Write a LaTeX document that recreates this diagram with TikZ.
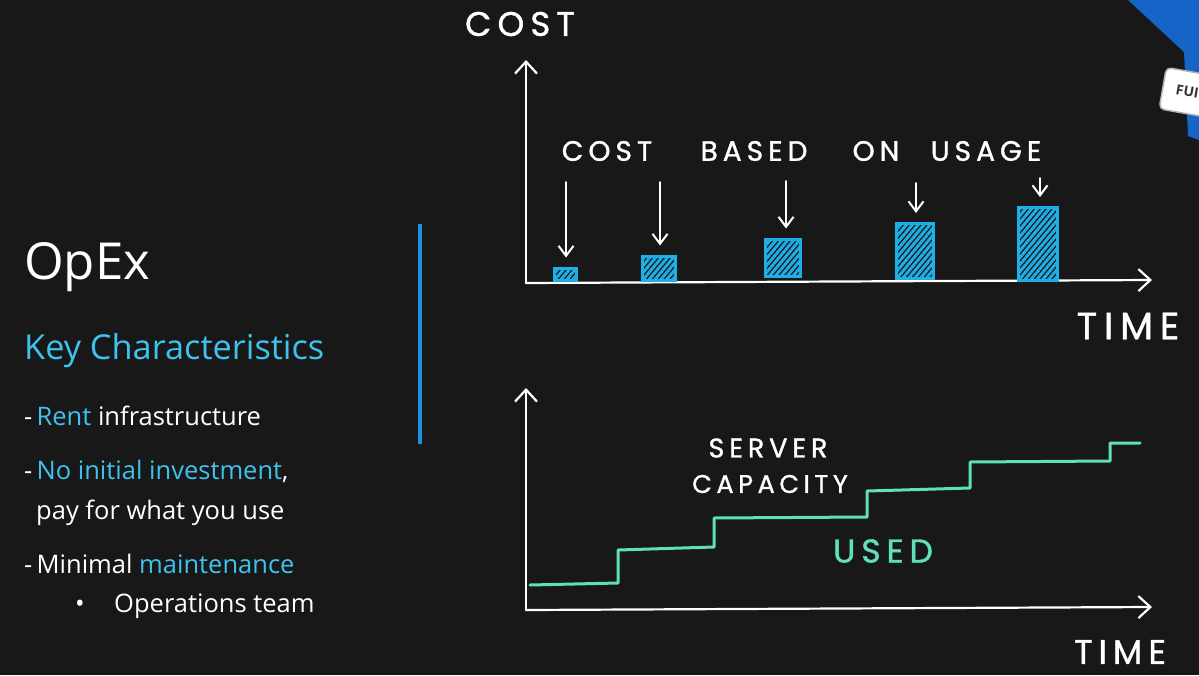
\documentclass[tikz,border=0pt]{standalone}
\usepackage{fontspec}
\setmainfont{Open Sans}
\newfontfamily\hand[LetterSpace=18,FakeBold=1.2]{Poppins}
\usetikzlibrary{arrows.meta,patterns.meta}
\definecolor{bg}{HTML}{181818}
\definecolor{accent}{HTML}{3DC3EE}
\definecolor{barblue}{HTML}{1FAEE6}
\definecolor{stepgreen}{HTML}{5FE0BC}
\definecolor{divider}{HTML}{1E8FE0}
\definecolor{cornerblue}{HTML}{1565C8}
\tikzset{
  txt/.style={anchor=base west, inner sep=0pt, text=white},
  axis/.style={draw=white, line width=2.2pt, line cap=round, -{Straight Barb[length=12pt,width=22pt,line width=2.2pt]}},
  usage/.style={draw=white, line width=2pt, line cap=round, -{Straight Barb[length=10pt,width=15pt,line width=2pt]}, shorten >=9pt},
  bar/.style={draw=barblue, line width=3pt, inner sep=0pt, pattern={Lines[angle=50,distance=4.5pt,line width=3pt]}, pattern color=barblue},
  handlbl/.style={inner sep=0pt, text=white, font=\hand\fontsize{28}{28}\selectfont},
  stepline/.style={draw=stepgreen, line width=3pt, line join=round, line cap=round},
}
\begin{document}
\begin{tikzpicture}[x=1pt,y=-1pt]
\fill[bg] (0,0) rectangle (1199,675);
\useasboundingbox (0,0) rectangle (1199,675);
% corner graphic
\begin{scope}
\clip (0,0) rectangle (1199,675);
\fill[cornerblue] (1128,0) -- (1199,0) -- (1199,140) -- (1188,136) -- (1184,52) -- cycle;
\node[draw=gray!60, fill=white, rounded corners=5pt, rotate=-10, minimum width=80, minimum height=42, line width=1.5pt, anchor=west, inner sep=0pt] (card) at (1162,88) {};
\node[anchor=base west, inner sep=0pt, rotate=-10, font=\bfseries\fontsize{14}{14}\selectfont, text=black!80] (cardtxt) at (1175,94) {FUI};
\end{scope}
% left text
\node[txt, font=\fontsize{51}{51}\selectfont] (title) at (24,279) {OpEx};
\node[txt, text=accent, font=\fontsize{34.3}{34.3}\selectfont] (key) at (24,359) {Key Characteristics};
\node[txt, font=\fontsize{25.5}{25.5}\selectfont] (l1) at (24,425) {-\,\textcolor{accent}{Rent} infrastructure};
\node[txt, font=\fontsize{25.5}{25.5}\selectfont] (l2) at (24,479) {-\,\textcolor{accent}{No initial investment},};
\node[txt, font=\fontsize{25.5}{25.5}\selectfont] (l3) at (36,519) {pay for what you use};
\node[txt, font=\fontsize{25.5}{25.5}\selectfont] (l4) at (24,573) {-\,Minimal \textcolor{accent}{maintenance}};
\node[txt, font=\fontsize{25.5}{25.5}\selectfont] (l5b) at (75,612) {•};
\node[txt, font=\fontsize{25.5}{25.5}\selectfont] (l5) at (114,612) {Operations team};
% divider
\draw[divider, line width=3.5pt] (420,224) -- (420,444);
% top chart
\coordinate (o1) at (526,283);
\coordinate (y1) at (526,60);
\coordinate (x1) at (1152,280);
\draw[axis] (o1) -- (y1);
\draw[axis] (o1) -- (x1);
\node[handlbl, font=\hand\fontsize{34}{34}\selectfont] (cost) at (520,24) {COST};
\node[handlbl, font=\hand\fontsize{38}{38}\selectfont] (time1) at (1128,326) {TIME};
\node[handlbl] (c1) at (607,151) {COST};
\node[handlbl] (c2) at (754,151) {BASED};
\node[handlbl] (c3) at (876,151) {ON};
\node[handlbl] (c4) at (986,151) {USAGE};
\node[bar, minimum width=22, minimum height=12] (b1) at (565.5,274) {};
\node[bar, minimum width=33, minimum height=24] (b2) at (659,268) {};
\node[bar, minimum width=35, minimum height=37] (b3) at (783,257.5) {};
\node[bar, minimum width=37, minimum height=55] (b4) at (915,251) {};
\node[bar, minimum width=39, minimum height=73] (b5) at (1038,244) {};
\coordinate (a1) at (566,182);
\coordinate (a2) at (660,182);
\coordinate (a3) at (786,181);
\coordinate (a4) at (916,183);
\coordinate (a5) at (1040,178);
\draw[usage] (a1) -- (a1 |- b1.north);
\draw[usage] (a2) -- (a2 |- b2.north);
\draw[usage] (a3) -- (a3 |- b3.north);
\draw[usage] (a4) -- (a4 |- b4.north);
\draw[usage] (a5) -- (a5 |- b5.north);
% bottom chart
\coordinate (o2) at (526,610);
\coordinate (y2) at (526,388);
\coordinate (x2) at (1152,607);
\draw[axis] (o2) -- (y2);
\draw[axis] (o2) -- (x2);
\node[handlbl, font=\hand\fontsize{34}{34}\selectfont] (time2) at (1120,652) {TIME};
\node[handlbl, font=\hand\fontsize{27}{27}\selectfont] (srv) at (768,448) {SERVER};
\node[handlbl, font=\hand\fontsize{25.5}{25.5}\selectfont] (cap) at (770,484) {CAPACITY};
\node[handlbl, text=stepgreen, font=\hand\fontsize{33}{33}\selectfont] (used) at (883,551) {USED};
\draw[stepline] (530,585) -- (618,583) -- (618,550) -- (714,547) -- (714,518) -- (867,517) -- (867,491) -- (970,488) -- (970,462) -- (1110,461) -- (1110,443) -- (1140,443);
\end{tikzpicture}
\end{document}
